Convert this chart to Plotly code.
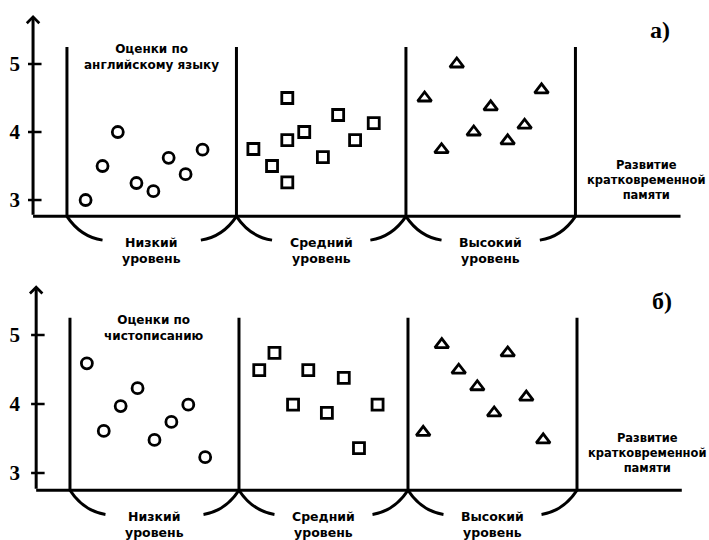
import plotly.graph_objects as go

# grades vs. level of short-term memory development
# x: position inside the level groups (0-1 low, 1-2 middle, 2-3 high), y: grade

# a) English
eng_low_x = [0.11, 0.21, 0.30, 0.41, 0.51, 0.60, 0.70, 0.80]
eng_low_y = [3.0, 3.5, 4.0, 3.25, 3.13, 3.62, 3.38, 3.74]
eng_mid_x = [1.10, 1.21, 1.30, 1.30, 1.30, 1.40, 1.51, 1.60, 1.70, 1.81]
eng_mid_y = [3.75, 3.5, 3.26, 3.88, 4.5, 4.0, 3.63, 4.25, 3.88, 4.13]
eng_high_x = [2.11, 2.21, 2.30, 2.40, 2.50, 2.60, 2.70, 2.80]
eng_high_y = [4.5, 3.74, 5.0, 4.0, 4.37, 3.87, 4.1, 4.62]

# б) penmanship
cal_low_x = [0.10, 0.20, 0.30, 0.40, 0.50, 0.60, 0.70, 0.80]
cal_low_y = [4.59, 3.61, 3.97, 4.23, 3.48, 3.74, 3.99, 3.23]
cal_mid_x = [1.12, 1.21, 1.32, 1.41, 1.52, 1.62, 1.71, 1.82]
cal_mid_y = [4.49, 4.74, 3.99, 4.49, 3.87, 4.38, 3.36, 3.99]
cal_high_x = [2.09, 2.20, 2.30, 2.41, 2.51, 2.59, 2.70, 2.80]
cal_high_y = [3.59, 4.86, 4.49, 4.25, 3.87, 4.74, 4.10, 3.48]

levels = ["Низкий<br>уровень", "Средний<br>уровень", "Высокий<br>уровень"]
subjects = ["Оценки по<br>английскому языку", "Оценки по<br>чистописанию"]
panel_tags = ["а)", "б)"]
x_title = "Развитие<br>кратковременной<br>памяти"
y_ticks = [3, 4, 5]
dividers = [0, 1, 2, 3]

SANS = "DejaVu Sans"
SERIF = "Liberation Serif"
LW = 3

fig = go.Figure()

panels = [
    ("x", "y", 2.76, [(eng_low_x, eng_low_y), (eng_mid_x, eng_mid_y), (eng_high_x, eng_high_y)]),
    ("x2", "y2", 2.75, [(cal_low_x, cal_low_y), (cal_mid_x, cal_mid_y), (cal_high_x, cal_high_y)]),
]
symbols = [("circle-open", 11), ("square-open", 11), ("triangle-up-open", 12)]

shapes = []
annotations = []
for p, (xr, yr, base, groups) in enumerate(panels):
    for (gx, gy), (sym, sz) in zip(groups, symbols):
        fig.add_trace(go.Scatter(x=gx, y=gy, xaxis=xr, yaxis=yr, mode="markers",
                                 marker=dict(symbol=sym, size=sz, color="black",
                                             line=dict(width=2.8, color="black")),
                                 showlegend=False, hoverinfo="skip"))
    line = dict(color="black", width=LW)
    # horizontal axis
    shapes.append(dict(type="line", xref=xr, yref=yr, x0=-0.2, x1=3.62, y0=base, y1=base, line=line))
    # group borders
    for d in dividers:
        shapes.append(dict(type="line", xref=xr, yref=yr, x0=d, x1=d, y0=base, y1=5.25, line=line))
    # tick marks
    for t in y_ticks:
        shapes.append(dict(type="line", xref=xr, yref=yr, x0=-0.23, x1=-0.15, y0=t, y1=t,
                           line=dict(color="black", width=2.5)))
    # brackets under each group
    for i in range(len(levels)):
        l, r = dividers[i], dividers[i + 1]
        shapes.append(dict(type="path", xref=xr, yref=yr, line=line,
                           path=f"M{l},{base} Q{l + 0.08},{base - 0.3} {l + 0.21},{base - 0.35}"))
        shapes.append(dict(type="path", xref=xr, yref=yr, line=line,
                           path=f"M{r},{base} Q{r - 0.08},{base - 0.3} {r - 0.21},{base - 0.35}"))
        annotations.append(dict(x=(l + r) / 2, y=base - 0.5, xref=xr, yref=yr, text=levels[i],
                                showarrow=False, font=dict(family=SANS, size=12.5, color="black", weight="bold")))
    # vertical axis with arrow
    annotations.append(dict(x=-0.2, y=5.72, ax=-0.2, ay=base, xref=xr, yref=yr, axref=xr, ayref=yr,
                            text="", showarrow=True, arrowhead=4, arrowsize=0.8, arrowwidth=LW,
                            arrowcolor="black", standoff=0, startstandoff=0))
    annotations.append(dict(x=0.5, y=5.1, xref=xr, yref=yr, text=subjects[p], showarrow=False,
                            font=dict(family=SANS, size=12, color="black", weight="bold")))
    annotations.append(dict(x=3.5, y=5.5, xref=xr, yref=yr, text=panel_tags[p], showarrow=False,
                            font=dict(family=SERIF, size=24, color="black", weight="bold")))
    annotations.append(dict(x=3.42, y=3.29, xref=xr, yref=yr, text=x_title, showarrow=False,
                            font=dict(family=SANS, size=11.5, color="black", weight="bold")))

axis_common = dict(showgrid=False, zeroline=False, showline=False)
fig.update_layout(
    width=709, height=540,
    margin=dict(l=0, r=0, t=0, b=0),
    paper_bgcolor="white", plot_bgcolor="white",
    shapes=shapes, annotations=annotations,
    xaxis=dict(domain=[0, 1], range=[-0.395, 3.788], anchor="y", showticklabels=False, **axis_common),
    xaxis2=dict(domain=[0, 1], range=[-0.414, 3.781], anchor="y2", showticklabels=False, **axis_common),
    yaxis=dict(domain=[0.5, 1], range=[1.971, 5.941], anchor="free", position=0.047,
               tickvals=y_ticks, ticks="outside", ticklen=9, tickcolor="rgba(0,0,0,0)",
               tickfont=dict(family=SERIF, size=21, color="black", weight="bold"), **axis_common),
    yaxis2=dict(domain=[0, 0.5], range=[2.029, 5.942], anchor="free", position=0.047,
                tickvals=y_ticks, ticks="outside", ticklen=9, tickcolor="rgba(0,0,0,0)",
                tickfont=dict(family=SERIF, size=21, color="black", weight="bold"), **axis_common),
)

# the page body has a default 8px margin; drop it so the figure fills the window
fig.write_html("out.html", config={"displayModeBar": False},
               post_script="document.body.style.margin = '0';")
